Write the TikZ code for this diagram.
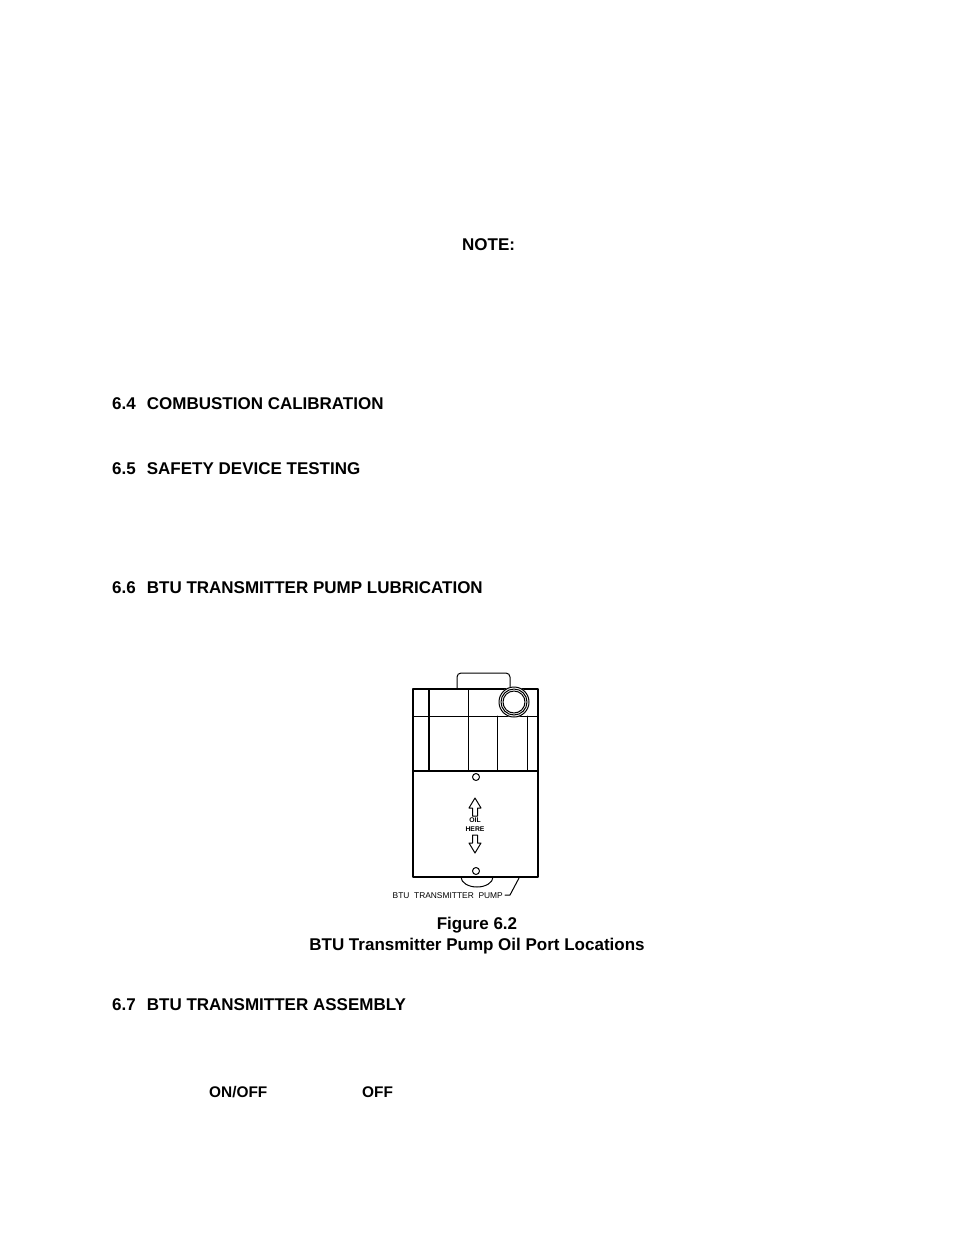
\documentclass[tikz,border=0pt]{standalone}
\usepackage{fontspec}
\setmainfont{Liberation Sans}
\begin{document}
\begin{tikzpicture}[x=1pt,y=1pt,line join=round,line cap=round,
	font=\bfseries\fontsize{17}{20}\selectfont,
	heading/.style={anchor=base west,inner sep=0pt},
	caption/.style={anchor=base,inner sep=0pt},
	small/.style={anchor=base west,inner sep=0pt,font=\bfseries\fontsize{15.4}{18}\selectfont},
	thinline/.style={line width=1pt},
	thickline/.style={line width=1.6pt}]
	\useasboundingbox (0,0) rectangle (954,-1235);
	\def\gap{\hspace{0.65em}}
	% page text
	\node[heading] (note) at (462,-250) {NOTE:};
	\node[heading] (secA) at (112,-409) {6.4\gap COMBUSTION CALIBRATION};
	\node[heading] (secB) at (112,-474) {6.5\gap SAFETY DEVICE TESTING};
	\node[heading] (secC) at (112,-593) {6.6\gap BTU TRANSMITTER PUMP LUBRICATION};
	\node[caption] (fig) at (477,-929) {Figure 6.2};
	\node[caption] (figtitle) at (477,-950) {BTU Transmitter Pump Oil Port Locations};
	\node[heading] (secD) at (112,-1010) {6.7\gap BTU TRANSMITTER ASSEMBLY};
	\node[small] (onoff) at (209,-1097) {ON/OFF};
	\node[small] (off) at (362,-1097) {OFF};
	% pump
	\def\ax{475}
	\draw[thickline] (413,-689) rectangle (538,-877);
	\draw[thickline] (413,-771)--(538,-771);
	\draw[thinline] (413,-716)--(538,-716);
	\draw[thickline] (429,-689)--(429,-771);
	\draw[thinline] (468,-689)--(468,-771);
	\draw[thinline] (497,-716)--(497,-771) (527,-716)--(527,-771);
	\draw[thinline,rounded corners=4pt] (457,-689)--(457,-673)--(510,-673)--(510,-689);
	\fill[white] (514,-702) circle (15.5);
	\foreach \r in {15,13,11} \draw[thinline] (514,-702) circle (\r);
	\draw[thinline] (476,-777) circle (3.5) (476,-871) circle (3.5);
	\draw[thinline] (461,-877) arc[start angle=180,end angle=360,x radius=16,y radius=10];
	\draw[thinline] (\ax,-798)--++(6,-10)--++(-3.5,0)--++(0,-8)--++(-5,0)--++(0,8)--++(-3.5,0)--cycle;
	\draw[thinline] (\ax,-853)--++(6,10)--++(-3.5,0)--++(0,8)--++(-5,0)--++(0,-8)--++(-3.5,0)--cycle;
	\node[font=\bfseries\fontsize{6.8}{9}\selectfont,align=center,inner sep=0pt] (oil) at (\ax,-824.5) {OIL\\HERE};
	\node[font=\fontsize{8.4}{9}\selectfont,anchor=base east,inner sep=0pt] (pumplabel) at (503,-898) {BTU\ \ TRANSMITTER\ \ PUMP};
	\coordinate (lead) at (519,-878);
	\draw[thinline] ([xshift=2pt,yshift=3pt]pumplabel.base east)--++(5,0)--(lead);
\end{tikzpicture}
\end{document}
